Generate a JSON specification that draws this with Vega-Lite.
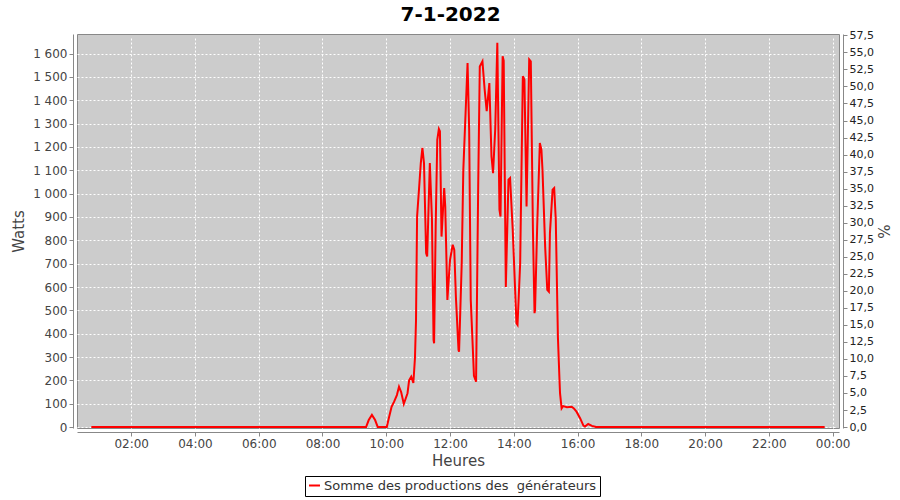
{
  "$schema": "https://vega.github.io/schema/vega-lite/v6.json",
  "width": 762,
  "height": 394,
  "autosize": {"type": "none"},
  "padding": {"left": 77, "top": 34, "right": 61, "bottom": 72},
  "background": "white",
  "config": {
    "font": "DejaVu Sans",
    "view": {"fill": "#CCCCCC", "stroke": "#888888", "strokeWidth": 1},
    "axis": {
      "labelFont": "DejaVu Sans",
      "titleFont": "DejaVu Sans",
      "labelColor": "#444444",
      "titleColor": "#444444",
      "domainColor": "#888888",
      "tickColor": "#888888",
      "gridColor": "#FFFFFF",
      "gridDash": [2, 2],
      "gridWidth": 1,
      "titleFontWeight": "normal",
      "offset": 4,
      "tickSize": 4,
      "labelPadding": 2
    }
  },
  "title": {
    "text": "7-1-2022",
    "fontSize": 20,
    "fontWeight": "bold",
    "color": "#000000",
    "font": "DejaVu Sans",
    "anchor": "middle",
    "frame": "bounds",
    "offset": 4
  },
  "datasets": {
    "prod": [
      {"t": "2022-01-07T00:45", "w": 0},
      {"t": "2022-01-07T01:30", "w": 0},
      {"t": "2022-01-07T02:00", "w": 0},
      {"t": "2022-01-07T03:00", "w": 0},
      {"t": "2022-01-07T04:00", "w": 0},
      {"t": "2022-01-07T05:00", "w": 0},
      {"t": "2022-01-07T06:00", "w": 0},
      {"t": "2022-01-07T07:00", "w": 0},
      {"t": "2022-01-07T08:00", "w": 0},
      {"t": "2022-01-07T09:00", "w": 0},
      {"t": "2022-01-07T09:22", "w": 0},
      {"t": "2022-01-07T09:27", "w": 30},
      {"t": "2022-01-07T09:33", "w": 52},
      {"t": "2022-01-07T09:39", "w": 30},
      {"t": "2022-01-07T09:44", "w": 0},
      {"t": "2022-01-07T10:01", "w": 0},
      {"t": "2022-01-07T10:05", "w": 40},
      {"t": "2022-01-07T10:10", "w": 87},
      {"t": "2022-01-07T10:15", "w": 110},
      {"t": "2022-01-07T10:20", "w": 137},
      {"t": "2022-01-07T10:24", "w": 173},
      {"t": "2022-01-07T10:28", "w": 150},
      {"t": "2022-01-07T10:33", "w": 99},
      {"t": "2022-01-07T10:40", "w": 145},
      {"t": "2022-01-07T10:43", "w": 200},
      {"t": "2022-01-07T10:47", "w": 216},
      {"t": "2022-01-07T10:51", "w": 189},
      {"t": "2022-01-07T10:54", "w": 296},
      {"t": "2022-01-07T10:56", "w": 459},
      {"t": "2022-01-07T10:58", "w": 902},
      {"t": "2022-01-07T11:02", "w": 1031},
      {"t": "2022-01-07T11:05", "w": 1131},
      {"t": "2022-01-07T11:08", "w": 1196},
      {"t": "2022-01-07T11:11", "w": 1131},
      {"t": "2022-01-07T11:15", "w": 745},
      {"t": "2022-01-07T11:17", "w": 731},
      {"t": "2022-01-07T11:20", "w": 974},
      {"t": "2022-01-07T11:22", "w": 1131},
      {"t": "2022-01-07T11:26", "w": 888},
      {"t": "2022-01-07T11:29", "w": 373},
      {"t": "2022-01-07T11:30", "w": 359},
      {"t": "2022-01-07T11:33", "w": 859},
      {"t": "2022-01-07T11:36", "w": 1231},
      {"t": "2022-01-07T11:39", "w": 1277},
      {"t": "2022-01-07T11:41", "w": 1267},
      {"t": "2022-01-07T11:44", "w": 816},
      {"t": "2022-01-07T11:49", "w": 1024},
      {"t": "2022-01-07T11:51", "w": 945},
      {"t": "2022-01-07T11:55", "w": 545},
      {"t": "2022-01-07T12:00", "w": 716},
      {"t": "2022-01-07T12:05", "w": 781},
      {"t": "2022-01-07T12:08", "w": 759},
      {"t": "2022-01-07T12:11", "w": 560},
      {"t": "2022-01-07T12:16", "w": 330},
      {"t": "2022-01-07T12:17", "w": 323},
      {"t": "2022-01-07T12:22", "w": 702},
      {"t": "2022-01-07T12:25", "w": 1102},
      {"t": "2022-01-07T12:28", "w": 1274},
      {"t": "2022-01-07T12:33", "w": 1560},
      {"t": "2022-01-07T12:36", "w": 1274},
      {"t": "2022-01-07T12:39", "w": 545},
      {"t": "2022-01-07T12:43", "w": 330},
      {"t": "2022-01-07T12:45", "w": 220},
      {"t": "2022-01-07T12:49", "w": 194},
      {"t": "2022-01-07T12:53", "w": 1031},
      {"t": "2022-01-07T12:56", "w": 1545},
      {"t": "2022-01-07T13:01", "w": 1567},
      {"t": "2022-01-07T13:05", "w": 1450},
      {"t": "2022-01-07T13:09", "w": 1353},
      {"t": "2022-01-07T13:14", "w": 1474},
      {"t": "2022-01-07T13:18", "w": 1160},
      {"t": "2022-01-07T13:21", "w": 1088},
      {"t": "2022-01-07T13:25", "w": 1274},
      {"t": "2022-01-07T13:29", "w": 1646},
      {"t": "2022-01-07T13:33", "w": 931},
      {"t": "2022-01-07T13:35", "w": 902},
      {"t": "2022-01-07T13:39", "w": 1589},
      {"t": "2022-01-07T13:41", "w": 1570},
      {"t": "2022-01-07T13:45", "w": 600},
      {"t": "2022-01-07T13:50", "w": 1060},
      {"t": "2022-01-07T13:53", "w": 1067},
      {"t": "2022-01-07T13:58", "w": 845},
      {"t": "2022-01-07T14:05", "w": 445},
      {"t": "2022-01-07T14:07", "w": 438},
      {"t": "2022-01-07T14:12", "w": 702},
      {"t": "2022-01-07T14:17", "w": 1503},
      {"t": "2022-01-07T14:20", "w": 1489},
      {"t": "2022-01-07T14:24", "w": 945},
      {"t": "2022-01-07T14:29", "w": 1575},
      {"t": "2022-01-07T14:32", "w": 1567},
      {"t": "2022-01-07T14:36", "w": 845},
      {"t": "2022-01-07T14:39", "w": 488},
      {"t": "2022-01-07T14:40", "w": 502},
      {"t": "2022-01-07T14:44", "w": 859},
      {"t": "2022-01-07T14:49", "w": 1217},
      {"t": "2022-01-07T14:52", "w": 1188},
      {"t": "2022-01-07T14:54", "w": 1102},
      {"t": "2022-01-07T14:59", "w": 773},
      {"t": "2022-01-07T15:03", "w": 588},
      {"t": "2022-01-07T15:06", "w": 580},
      {"t": "2022-01-07T15:08", "w": 831},
      {"t": "2022-01-07T15:13", "w": 1017},
      {"t": "2022-01-07T15:16", "w": 1024},
      {"t": "2022-01-07T15:19", "w": 888},
      {"t": "2022-01-07T15:23", "w": 387},
      {"t": "2022-01-07T15:26", "w": 202},
      {"t": "2022-01-07T15:27", "w": 145},
      {"t": "2022-01-07T15:30", "w": 80},
      {"t": "2022-01-07T15:33", "w": 90},
      {"t": "2022-01-07T15:40", "w": 85},
      {"t": "2022-01-07T15:49", "w": 87},
      {"t": "2022-01-07T15:53", "w": 80},
      {"t": "2022-01-07T15:58", "w": 66},
      {"t": "2022-01-07T16:05", "w": 37},
      {"t": "2022-01-07T16:11", "w": 6},
      {"t": "2022-01-07T16:14", "w": 2},
      {"t": "2022-01-07T16:20", "w": 13},
      {"t": "2022-01-07T16:27", "w": 5},
      {"t": "2022-01-07T16:35", "w": 0},
      {"t": "2022-01-07T17:00", "w": 0},
      {"t": "2022-01-07T18:00", "w": 0},
      {"t": "2022-01-07T19:00", "w": 0},
      {"t": "2022-01-07T20:00", "w": 0},
      {"t": "2022-01-07T21:00", "w": 0},
      {"t": "2022-01-07T22:00", "w": 0},
      {"t": "2022-01-07T23:00", "w": 0},
      {"t": "2022-01-07T23:45", "w": 0}
    ],
    "pctAxis": [
      {"pct": 0},
      {"pct": 57.5}
    ]
  },
  "layer": [
    {
      "data": {"name": "prod"},
      "mark": {"type": "line", "strokeWidth": 2, "clip": true},
      "encoding": {
        "x": {
          "field": "t",
          "type": "temporal",
          "scale": {
            "domain": [
              {"year": 2022, "month": 1, "date": 7, "hours": 0, "minutes": 18},
              {"year": 2022, "month": 1, "date": 8, "hours": 0, "minutes": 12}
            ]
          },
          "axis": {
            "title": "Heures",
            "format": "%H:%M",
            "values": [
              {"year": 2022, "month": 1, "date": 7, "hours": 2},
              {"year": 2022, "month": 1, "date": 7, "hours": 4},
              {"year": 2022, "month": 1, "date": 7, "hours": 6},
              {"year": 2022, "month": 1, "date": 7, "hours": 8},
              {"year": 2022, "month": 1, "date": 7, "hours": 10},
              {"year": 2022, "month": 1, "date": 7, "hours": 12},
              {"year": 2022, "month": 1, "date": 7, "hours": 14},
              {"year": 2022, "month": 1, "date": 7, "hours": 16},
              {"year": 2022, "month": 1, "date": 7, "hours": 18},
              {"year": 2022, "month": 1, "date": 7, "hours": 20},
              {"year": 2022, "month": 1, "date": 7, "hours": 22},
              {"year": 2022, "month": 1, "date": 8, "hours": 0}
            ],
            "labelFontSize": 12,
            "titleFontSize": 15,
            "titlePadding": 4
          }
        },
        "y": {
          "field": "w",
          "type": "quantitative",
          "scale": {"domain": [-4, 1684], "nice": false, "zero": false},
          "axis": {
            "title": "Watts",
            "values": [0, 100, 200, 300, 400, 500, 600, 700, 800, 900, 1000, 1100, 1200, 1300, 1400, 1500, 1600],
            "labelExpr": "replace(format(datum.value, ','), ',', ' ')",
            "labelFontSize": 12,
            "titleFontSize": 15,
            "titlePadding": 6
          }
        },
        "color": {
          "datum": "Somme des productions des\u00a0 générateurs",
          "type": "nominal",
          "scale": {"range": ["#FF0000"]},
          "legend": {
            "title": null,
            "orient": "none",
            "legendX": 228,
            "legendY": 442,
            "symbolType": "stroke",
            "symbolStrokeWidth": 2,
            "symbolSize": 120,
            "labelFontSize": 13,
            "labelLimit": 0,
            "labelOffset": 3,
            "labelColor": "#333333",
            "labelFont": "DejaVu Sans",
            "strokeColor": "#000000",
            "fillColor": "#FFFFFF",
            "padding": 3
          }
        }
      }
    },
    {
      "data": {"name": "pctAxis"},
      "mark": {"type": "point", "opacity": 0},
      "encoding": {
        "y": {
          "field": "pct",
          "type": "quantitative",
          "scale": {"domain": [-0.14, 57.7], "nice": false, "zero": false},
          "axis": {
            "orient": "right",
            "title": "%",
            "grid": false,
            "values": [0, 2.5, 5, 7.5, 10, 12.5, 15, 17.5, 20, 22.5, 25, 27.5, 30, 32.5, 35, 37.5, 40, 42.5, 45, 47.5, 50, 52.5, 55, 57.5],
            "labelExpr": "replace(format(datum.value, '.1f'), '.', ',')",
            "labelFontSize": 11,
            "labelColor": "#222222",
            "titleFontSize": 15,
            "titlePadding": 1
          }
        }
      }
    }
  ],
  "resolve": {"scale": {"y": "independent"}, "axis": {"y": "independent"}}
}
